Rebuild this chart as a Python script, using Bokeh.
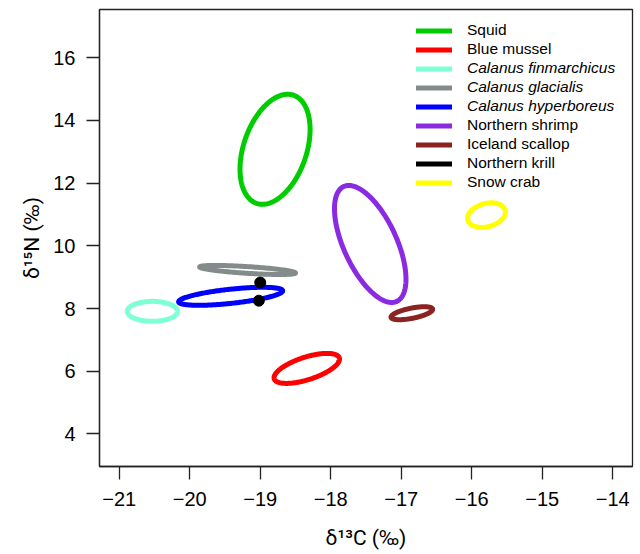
import numpy as np
from bokeh.plotting import figure
from bokeh.models import (Range1d, FixedTicker, CustomJSTickFormatter, Legend, LegendItem)
from bokeh.embed import file_html
from bokeh.resources import INLINE

# ---- data ----
species = ["Squid", "Blue mussel", "Calanus finmarchicus", "Calanus glacialis",
           "Calanus hyperboreus", "Northern shrimp", "Iceland scallop",
           "Northern krill", "Snow crab"]
colors = ["#00CD00", "#FF0000", "#7FFFD4", "#838B8B", "#0000FF", "#8A2BE2",
          "#8B2323", "#000000", "#FFFF00"]
italic = [False, False, True, True, True, False, False, False, False]

# standard ellipses: centre, SD in C and N, correlation (None = no ellipse)
mean_c = [-18.79, -18.34, -20.53, -19.18, -19.42, -17.44, -16.85, None, -15.79]
mean_n = [13.08, 6.09, 7.91, 9.23, 8.39, 10.06, 7.85, None, 10.98]
sd_c = [0.497, 0.464, 0.355, 0.68, 0.738, 0.507, 0.295, None, 0.267]
sd_n = [1.755, 0.479, 0.319, 0.144, 0.287, 1.867, 0.207, None, 0.392]
rho = [0.36, 0.62, 0.0, -0.67, 0.61, -0.60, 0.60, None, 0.25]

# Northern krill: only two samples
krill_c = [-19.00, -19.02]
krill_n = [8.83, 8.25]

x_ticks = [-21, -20, -19, -18, -17, -16, -15, -14]
y_ticks = [4, 6, 8, 10, 12, 14, 16]
x_lim = (-21.0, -14.0)
y_lim = (3.5, 17.0)
x_title = "\u03b4\u00b9\u00b3C (\u2030)"
y_title = "\u03b4\u00b9\u2075N (\u2030)"

FONT = "Liberation Sans"
TITLE_FONT = "Roboto"
FW, FH = 533, 457

def pad(lim):
    d = (lim[1] - lim[0]) * 0.04
    return lim[0] - d, lim[1] + d

p = figure(frame_width=FW, frame_height=FH, output_backend="svg", toolbar_location=None,
           x_range=Range1d(*pad(x_lim)), y_range=Range1d(*pad(y_lim)),
           min_border_left=99, min_border_top=9, min_border_right=4, min_border_bottom=86)
p.background_fill_color = "white"
p.border_fill_color = "white"
p.outline_line_color = "#222222"
p.outline_line_width = 1.3
p.xgrid.visible = False
p.ygrid.visible = False

fmt = CustomJSTickFormatter(code="return tick < 0 ? '\u2212' + Math.abs(tick) : String(tick);")
for ax, ticks in ((p.xaxis[0], x_ticks), (p.yaxis[0], y_ticks)):
    ax.ticker = FixedTicker(ticks=ticks)
    ax.formatter = fmt
    ax.major_tick_in = 0
    ax.major_tick_out = 13
    ax.minor_tick_line_color = None
    ax.axis_line_color = "#222222"
    ax.axis_line_width = 1.3
    ax.major_tick_line_color = "#222222"
    ax.major_tick_line_width = 1.3
    ax.major_label_text_font = FONT
    ax.major_label_text_font_size = "20px"
    ax.major_label_text_color = "black"
    ax.axis_label_text_font = TITLE_FONT
    ax.axis_label_text_font_size = "21px"
    ax.axis_label_text_font_style = "normal"
    ax.axis_label_text_color = "black"
p.xaxis.axis_label = x_title
p.yaxis.axis_label = y_title
p.xaxis.major_label_standoff = 12
p.yaxis.major_label_standoff = 11
p.xaxis.axis_label_standoff = 17
p.yaxis.axis_label_standoff = 6

t = np.linspace(0, 2 * np.pi, 241)
renderers = []
for i, name in enumerate(species):
    if mean_c[i] is None:
        r = p.line(x=[np.nan], y=[np.nan], line_color=colors[i], line_width=5,
                   line_cap="round")
        p.scatter(x=krill_c, y=krill_n, size=11, color=colors[i])
    else:
        xs = mean_c[i] + sd_c[i] * np.cos(t)
        ys = mean_n[i] + sd_n[i] * (rho[i] * np.cos(t) + np.sqrt(1 - rho[i] ** 2) * np.sin(t))
        r = p.line(x=xs, y=ys, line_color=colors[i], line_width=5, line_cap="round",
                   line_join="round")
    renderers.append(r)

# legends: split into groups so that the Calanus names can be italic
groups = [(0, 2), (2, 5), (5, 9)]
row_h = 19
top_ref = 11.5           # top of first row below frame top
for (a, b) in groups:
    items = [LegendItem(label=species[i], renderers=[renderers[i]]) for i in range(a, b)]
    n = b - a
    top = top_ref + a * row_h
    vy = FH - top - n * row_h
    lg = Legend(items=items, location=(317, vy), padding=0, margin=0, spacing=0,
                glyph_width=36, glyph_height=row_h, label_height=row_h,
                label_standoff=15, border_line_alpha=0, background_fill_alpha=0,
                label_text_font=FONT, label_text_font_size="15.5px",
                label_text_color="black",
                label_text_font_style="italic" if italic[a] else "normal")
    p.add_layout(lg)

open("out.html", "w").write(file_html(p, INLINE))
